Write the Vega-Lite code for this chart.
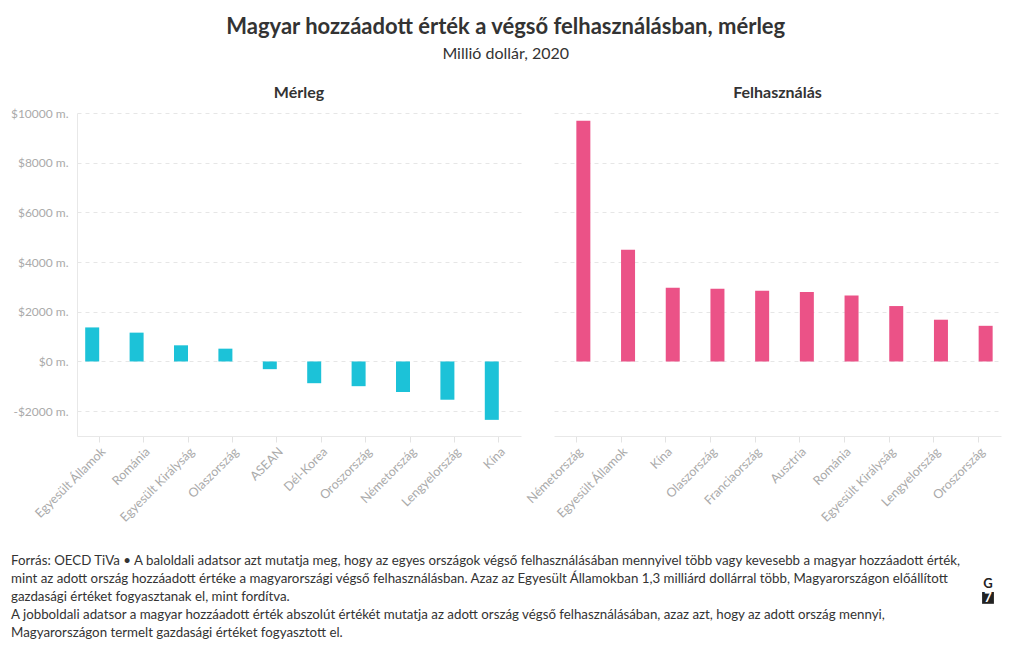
{
  "$schema": "https://vega.github.io/schema/vega-lite/v6.json",
  "background": "white",
  "padding": {"left": 10, "right": 15, "top": 16, "bottom": 5},
  "title": {
    "text": "Magyar hozzáadott érték a végső felhasználásban, mérleg",
    "subtitle": "Millió dollár, 2020",
    "font": "Lato",
    "subtitleFont": "Lato",
    "fontSize": 22,
    "subtitleFontSize": 16,
    "fontWeight": "bold",
    "color": "#333333",
    "subtitleColor": "#333333",
    "anchor": "middle",
    "subtitlePadding": 7,
    "offset": 22
  },
  "config": {
    "font": "Lato",
    "view": {"stroke": null},
    "axis": {"labelFont": "Lato", "labelColor": "#aaaaaa", "labelFontSize": 12}
  },
  "datasets": {
    "merleg": [
      {"orszag": "Egyesült Államok", "ertek": 1370},
      {"orszag": "Románia", "ertek": 1160},
      {"orszag": "Egyesült Királyság", "ertek": 650},
      {"orszag": "Olaszország", "ertek": 515},
      {"orszag": "ASEAN", "ertek": -310},
      {"orszag": "Dél-Korea", "ertek": -875},
      {"orszag": "Oroszország", "ertek": -995},
      {"orszag": "Németország", "ertek": -1230},
      {"orszag": "Lengyelország", "ertek": -1540},
      {"orszag": "Kína", "ertek": -2350}
    ],
    "felhasznalas": [
      {"orszag": "Németország", "ertek": 9690},
      {"orszag": "Egyesült Államok", "ertek": 4500},
      {"orszag": "Kína", "ertek": 2970},
      {"orszag": "Olaszország", "ertek": 2930},
      {"orszag": "Franciaország", "ertek": 2850},
      {"orszag": "Ausztria", "ertek": 2800},
      {"orszag": "Románia", "ertek": 2650},
      {"orszag": "Egyesült Királyság", "ertek": 2230},
      {"orszag": "Lengyelország", "ertek": 1680},
      {"orszag": "Oroszország", "ertek": 1435}
    ],
    "footer": [
      {"row": 0, "x": 0, "text": "Forrás: OECD TiVa • A baloldali adatsor azt mutatja meg, hogy az egyes országok végső felhasználásában mennyivel több vagy kevesebb a magyar hozzáadott érték,"},
      {"row": 1, "x": 0, "text": "mint az adott ország hozzáadott értéke a magyarországi végső felhasználásban. Azaz az Egyesült Államokban 1,3 milliárd dollárral több, Magyarországon előállított"},
      {"row": 2, "x": 0, "text": "gazdasági értéket fogyasztanak el, mint fordítva."},
      {"row": 3, "x": 0, "text": "A jobboldali adatsor a magyar hozzáadott érték abszolút értékét mutatja az adott ország végső felhasználásában, azaz azt, hogy az adott ország mennyi,"},
      {"row": 4, "x": 0, "text": "Magyarországon termelt gazdasági értéket fogyasztott el."}
    ],
    "logo": [
      {"row": 1.25, "x": 1, "label": "G", "kind": "g"},
      {"row": 2.05, "x": 1, "label": "7", "kind": "box"}
    ]
  },
  "spacing": 30,
  "vconcat": [
    {
      "bounds": "flush",
      "spacing": 33,
      "hconcat": [
        {
          "title": {"text": "Mérleg", "fontSize": 16, "fontWeight": "bold", "color": "#333333", "font": "Lato", "offset": 6},
          "width": 444,
          "height": 323,
          "data": {"name": "merleg"},
          "mark": {"type": "bar", "width": 14, "xOffset": -7, "color": "#1cc2d8"},
          "encoding": {
            "x": {
              "field": "orszag", "type": "nominal", "sort": null, "title": null,
              "scale": {"paddingInner": 0, "paddingOuter": 0},
              "axis": {"labelAngle": -45, "tickColor": "#e3e3e3", "tickSize": 6, "domainColor": "#e8e8e8", "labelPadding": 3, "grid": false, "labelFontSize": 12.5}
            },
            "y": {
              "field": "ertek", "type": "quantitative", "title": null,
              "scale": {"domain": [-3000, 10000], "nice": false, "zero": false},
              "axis": {
                "values": [-2000, 0, 2000, 4000, 6000, 8000, 10000],
                "labelExpr": "(datum.value < 0 ? '-$' : '$') + abs(datum.value) + ' m.'",
                "grid": true, "gridDash": [4, 4], "gridColor": "#e6e6e6",
                "ticks": false, "domainColor": "#e8e8e8", "labelPadding": 9
              }
            }
          }
        },
        {
          "title": {"text": "Felhasználás", "fontSize": 16, "fontWeight": "bold", "color": "#333333", "font": "Lato", "offset": 12},
          "width": 447,
          "height": 323,
          "data": {"name": "felhasznalas"},
          "mark": {"type": "bar", "width": 14, "xOffset": 7, "color": "#eb5287"},
          "encoding": {
            "x": {
              "field": "orszag", "type": "nominal", "sort": null, "title": null,
              "scale": {"paddingInner": 0, "paddingOuter": 0},
              "axis": {"labelAngle": -45, "tickColor": "#e3e3e3", "tickSize": 6, "domainColor": "#e8e8e8", "labelPadding": 3, "grid": false, "labelFontSize": 12.5}
            },
            "y": {
              "field": "ertek", "type": "quantitative", "title": null,
              "scale": {"domain": [-3000, 10000], "nice": false, "zero": false},
              "axis": {
                "values": [-2000, 0, 2000, 4000, 6000, 8000, 10000],
                "labels": false, "domain": false, "ticks": false,
                "grid": true, "gridDash": [4, 4], "gridColor": "#e6e6e6"
              }
            }
          }
        }
      ]
    },
    {
      "width": 924,
      "height": 72,
      "layer": [
        {
          "data": {"name": "footer"},
          "mark": {"type": "text", "align": "left", "baseline": "middle", "fontSize": 13.3, "color": "#333333", "font": "Lato"},
          "encoding": {
            "x": {"field": "x", "type": "quantitative", "scale": {"domain": [0, 1], "range": [-66, 911]}, "axis": null},
            "y": {"field": "row", "type": "quantitative", "scale": {"domain": [0, 4], "reverse": true}, "axis": null},
            "text": {"field": "text"}
          }
        },
        {
          "data": {"name": "logo"},
          "transform": [{"filter": "datum.kind === 'box'"}],
          "mark": {"type": "square", "size": 140, "color": "#222222", "opacity": 1},
          "encoding": {
            "x": {"field": "x", "type": "quantitative"},
            "y": {"field": "row", "type": "quantitative"}
          }
        },
        {
          "data": {"name": "logo"},
          "mark": {"type": "text", "align": "center", "baseline": "middle", "fontSize": 13, "fontWeight": "bold", "font": "Lato"},
          "encoding": {
            "x": {"field": "x", "type": "quantitative"},
            "y": {"field": "row", "type": "quantitative"},
            "text": {"field": "label"},
            "color": {"condition": {"test": "datum.kind === 'box'", "value": "#ffffff"}, "value": "#222222"}
          }
        }
      ]
    }
  ]
}
